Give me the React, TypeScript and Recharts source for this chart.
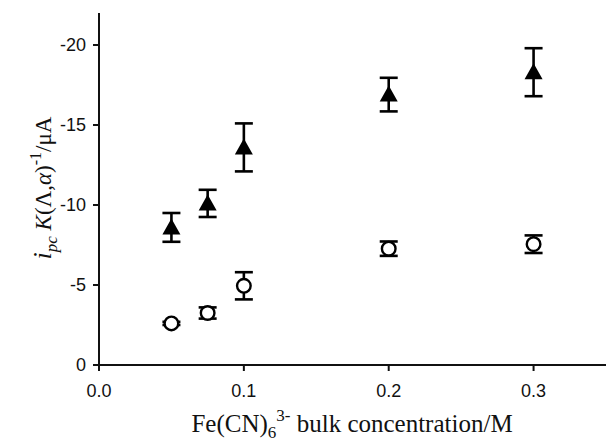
import { ScatterChart, Scatter, XAxis, YAxis, ErrorBar, Label } from 'recharts';

// bulk concentration (M)
const concentrations = [0.05, 0.075, 0.1, 0.2, 0.3];
// filled triangles
const triangleValues = [-8.6, -10.1, -13.6, -16.9, -18.3];
const triangleErrors = [0.9, 0.85, 1.5, 1.05, 1.5];
// open circles
const circleValues = [-2.6, -3.25, -4.95, -7.27, -7.55];
const circleErrors = [0.1, 0.35, 0.85, 0.45, 0.55];

const xTicks = [0, 0.1, 0.2, 0.3];
const yTicks = [0, -5, -10, -15, -20];

const triangleData = concentrations.map((x, i) => ({ x, y: triangleValues[i], err: triangleErrors[i] }));
const circleData = concentrations.map((x, i) => ({ x, y: circleValues[i], err: circleErrors[i] }));

const tickFont = { fontFamily: 'Liberation Sans, Arial, sans-serif', fontSize: 18, fill: '#111' };
const serif = 'Liberation Serif, Times New Roman, serif';

const Triangle = (props: any) => {
  const { cx, cy } = props;
  if (cx == null || cy == null) return null;
  return <path d={`M${cx},${cy - 9} L${cx + 9},${cy + 7} L${cx - 9},${cy + 7} Z`} fill="#000" />;
};

const Circle = (props: any) => {
  const { cx, cy } = props;
  if (cx == null || cy == null) return null;
  return <circle cx={cx} cy={cy} r={6.8} fill="#fff" stroke="#000" strokeWidth={2.4} />;
};

const XTitle = () => (
  <text x={352} y={432} textAnchor="middle" fontFamily={serif} fontSize={25} fill="#111">
    <tspan>Fe(CN)</tspan>
    <tspan fontSize={17} dy={6}>6</tspan>
    <tspan fontSize={17} dy={-17}>3-</tspan>
    <tspan dy={11}> bulk concentration/M</tspan>
  </text>
);

const YTitle = () => (
  <text
    x={0}
    y={0}
    transform="translate(51,188) rotate(-90)"
    textAnchor="middle"
    fontFamily={serif}
    fontSize={23}
    fill="#111"
  >
    <tspan fontStyle="italic" fontSize={26}>i</tspan>
    <tspan fontStyle="italic" fontSize={17} dy={6}>pc</tspan>
    <tspan dy={-6}> </tspan>
    <tspan fontStyle="italic">K</tspan>
    <tspan>(Λ,</tspan>
    <tspan fontStyle="italic">α</tspan>
    <tspan>)</tspan>
    <tspan fontSize={16} dy={-10}>-1</tspan>
    <tspan dy={10}>/μA</tspan>
  </text>
);

export default function App() {
  return (
    <div style={{ position: 'absolute', left: 0, top: 0, width: 608, height: 445, background: '#fff' }}>
      <ScatterChart width={608} height={445} margin={{ top: 13, right: 2, bottom: 0, left: 0 }}>
        <XAxis
          type="number"
          dataKey="x"
          domain={[0, 0.35]}
          ticks={xTicks}
          tickFormatter={(v: number) => v.toFixed(1)}
          height={80}
          tick={tickFont}
          tickSize={6}
          tickMargin={13}
          axisLine={{ stroke: '#111', strokeWidth: 2 }}
          tickLine={{ stroke: '#111', strokeWidth: 2 }}
          allowDataOverflow
        >
          <Label content={<XTitle />} />
        </XAxis>
        <XAxis
          xAxisId="top"
          orientation="top"
          type="number"
          domain={[0, 0.35]}
          height={0}
          tick={false}
          tickLine={false}
          axisLine={{ stroke: '#111', strokeWidth: 2 }}
        />
        <YAxis
          type="number"
          dataKey="y"
          domain={[-22, 0]}
          reversed
          ticks={yTicks}
          width={99}
          tick={tickFont}
          tickSize={6}
          tickMargin={7}
          axisLine={{ stroke: '#111', strokeWidth: 2 }}
          tickLine={{ stroke: '#111', strokeWidth: 2 }}
          allowDataOverflow
        >
          <Label content={<YTitle />} />
        </YAxis>
        <YAxis
          yAxisId="right"
          orientation="right"
          type="number"
          domain={[-22, 0]}
          width={0}
          tick={false}
          tickLine={false}
          axisLine={{ stroke: '#111', strokeWidth: 2 }}
        />
        <Scatter data={triangleData} shape={<Triangle />} isAnimationActive={false}>
          <ErrorBar dataKey="err" direction="y" width={9} stroke="#000" strokeWidth={2.6} />
        </Scatter>
        <Scatter data={circleData} shape={<Circle />} isAnimationActive={false}>
          <ErrorBar dataKey="err" direction="y" width={9} stroke="#000" strokeWidth={2.6} />
        </Scatter>
      </ScatterChart>
    </div>
  );
}
